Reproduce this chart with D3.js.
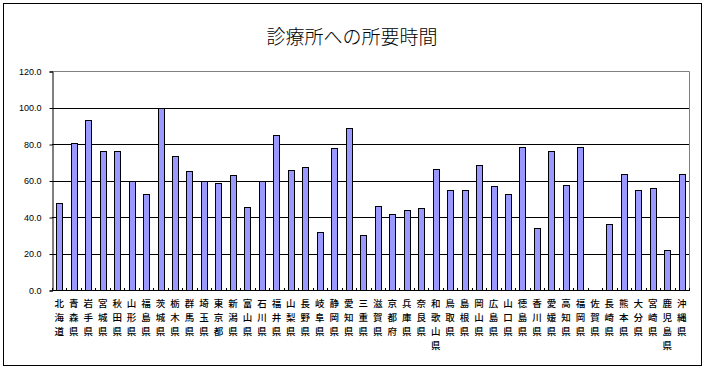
<!DOCTYPE html>
<html><head><meta charset="utf-8">
<script src="https://cdn.jsdelivr.net/npm/d3@7"></script>
<style>
body{margin:0;background:#fff;}
svg{display:block;}
</style></head>
<body>
<svg id="chart" width="706" height="369"></svg>
<script>
const title = "診療所への所要時間";
const categories = ["北海道","青森県","岩手県","宮城県","秋田県","山形県","福島県","茨城県","栃木県","群馬県","埼玉県","東京都","新潟県","富山県","石川県","福井県","山梨県","長野県","岐阜県","静岡県","愛知県","三重県","滋賀県","京都府","兵庫県","奈良県","和歌山県","鳥取県","島根県","岡山県","広島県","山口県","徳島県","香川県","愛媛県","高知県","福岡県","佐賀県","長崎県","熊本県","大分県","宮崎県","鹿児島県","沖縄県"];
const values = [47.5,80.4,93.0,76.2,76.2,59.7,52.4,99.8,73.2,65.0,59.7,58.4,62.8,45.3,59.7,84.8,65.6,67.2,31.6,77.6,88.6,30.0,45.8,41.5,43.7,44.8,66.1,54.6,54.6,68.3,56.8,52.4,78.2,33.8,76.0,57.4,78.2,null,36.0,63.4,54.6,55.7,21.8,63.4];
const yTicks = [0,20,40,60,80,100,120];

const svg = d3.select("#chart");
const plot = {left:52, right:689, top:71, bottom:290};

// outer frame
svg.append("rect").attr("x",3.5).attr("y",3.5).attr("width",698).attr("height",362)
  .attr("fill","#fff").attr("stroke","#000").attr("stroke-width",1);

// title
svg.append("text").attr("x",352).attr("y",44).attr("text-anchor","middle")
  .attr("font-family","'Noto Sans CJK JP'").attr("font-size",19).attr("font-weight",300)
  .attr("fill","#000").text(title);

const x = d3.scaleBand().domain(categories).range([plot.left, plot.right])
  .paddingInner(0.58).paddingOuter(0.29);
const y = d3.scaleLinear().domain([0,120]).range([plot.bottom, plot.top]);

// gridlines
svg.append("g").selectAll("line").data(yTicks.filter(d=>d>0 && d<120)).join("line")
  .attr("x1",plot.left).attr("x2",plot.right)
  .attr("y1",d=>Math.round(y(d))+0.5).attr("y2",d=>Math.round(y(d))+0.5)
  .attr("stroke","#000").attr("stroke-width",1);
// gray top & right border
svg.append("path")
  .attr("d",`M${plot.left},${Math.round(y(120))+0.5}H${plot.right+0.5}V${plot.bottom}`)
  .attr("fill","none").attr("stroke","#808080").attr("stroke-width",1);

// bars
const step = x.step();
svg.append("g").selectAll("rect").data(categories.map((c,i)=>({c,v:values[i]})).filter(d=>d.v!=null)).join("rect")
  .attr("x",d=>Math.round(x(d.c))+0.5)
  .attr("y",d=>Math.round(y(d.v))+0.5)
  .attr("width",d=>Math.round(x.bandwidth()))
  .attr("height",d=>Math.round(y(0))-Math.round(y(d.v)))
  .attr("fill","#9999ff").attr("stroke","#000").attr("stroke-width",1);

// y axis
const yAxis = d3.axisLeft(y).tickValues(yTicks).tickFormat(d3.format(".1f")).tickSize(3).tickPadding(8);
const gy = svg.append("g").attr("transform",`translate(${plot.left+0.5},0.5)`).call(yAxis);
gy.select(".domain").attr("stroke","#000");
gy.selectAll("line").attr("stroke","#000");
gy.selectAll("text").attr("font-family","'Liberation Sans', Arial, sans-serif").attr("font-size",9).attr("fill","#000");

// x axis line + ticks at category boundaries
svg.append("line").attr("x1",plot.left).attr("x2",plot.right+1)
  .attr("y1",plot.bottom+0.5).attr("y2",plot.bottom+0.5).attr("stroke","#000");
const bounds = d3.range(categories.length+1).map(i=>plot.left + i*step);
svg.append("g").selectAll("line").data(bounds).join("line")
  .attr("x1",d=>Math.round(d)+0.5).attr("x2",d=>Math.round(d)+0.5)
  .attr("y1",plot.bottom-2).attr("y2",plot.bottom+1)
  .attr("stroke","#000");

// x labels (vertical stacked, one char per line)
const lab = svg.append("g").attr("font-family","'Noto Sans CJK JP'").attr("font-size",9.5)
  .attr("font-weight",500).attr("fill","#000").attr("text-anchor","middle");
categories.forEach(c=>{
  const cx = x(c) + x.bandwidth()/2;
  Array.from(c).forEach((ch,j)=>{
    lab.append("text").attr("x",cx).attr("y",307 + j*14).text(ch);
  });
});
</script>
</body></html>
